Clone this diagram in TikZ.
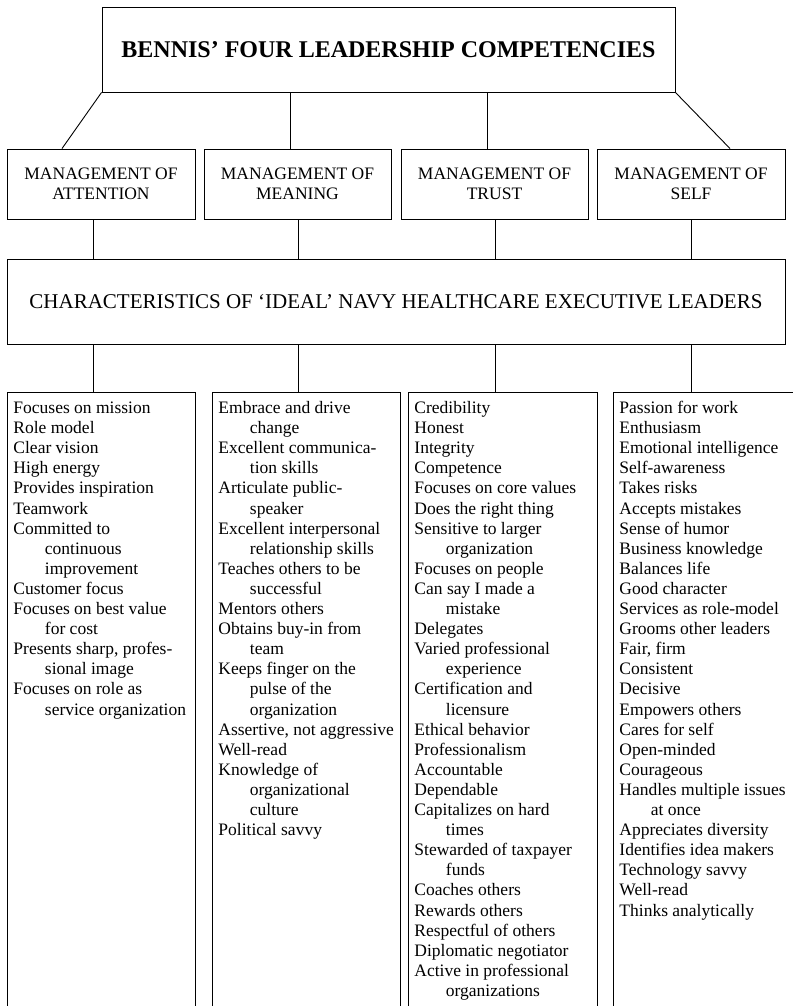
\documentclass[tikz,border=0pt]{standalone}
\usepackage{fontspec}
\setmainfont{Liberation Serif}

\newcommand{\cont}{\hspace*{31.5pt}}
\newcommand{\listfont}{\fontsize{17.5}{20.1}\selectfont}

\tikzset{
  topbox/.style={draw, inner sep=0pt, minimum width=573pt, minimum height=85pt, font=\bfseries\fontsize{24}{28}\selectfont},
  mgmtbox/.style={draw, inner sep=0pt, minimum height=70pt, align=center, font=\fontsize{17.5}{20}\selectfont},
  idealbox/.style={draw, inner sep=0pt, minimum width=778pt, minimum height=85pt, font=\fontsize{21}{24}\selectfont},
  listbox/.style={draw, anchor=north west, inner xsep=6pt, inner ysep=7pt, font=\listfont},
}

\begin{document}
\begin{tikzpicture}[x=1pt, y=-1pt, line width=0.9pt]
\useasboundingbox (0,0) rectangle (792,1006);
\node[topbox] (bennis) at (388.5,49.5) {BENNIS' FOUR LEADERSHIP COMPETENCIES};
\node[mgmtbox, minimum width=188pt] (attention) at (101,184) {MANAGEMENT OF\\ATTENTION};
\node[mgmtbox, minimum width=187pt] (meaning) at (297.5,184) {MANAGEMENT OF\\MEANING};
\node[mgmtbox, minimum width=187pt] (trust) at (494.5,184) {MANAGEMENT OF\\TRUST};
\node[mgmtbox, minimum width=188pt] (self) at (691,184) {MANAGEMENT OF\\SELF};
\node[idealbox] (ideal) at (396,301.5) {CHARACTERISTICS OF `IDEAL' NAVY HEALTHCARE EXECUTIVE LEADERS};
% lists of characteristics
\node[listbox] (listattention) at (7,392) {\parbox[t][600pt][t]{176pt}{\strut Focuses on mission\\
Role model\\
Clear vision\\
High energy\\
Provides inspiration\\
Teamwork\\
Committed to\\
\cont continuous\\
\cont improvement\\
Customer focus\\
Focuses on best value\\
\cont for cost\\
Presents sharp, profes-\\
\cont sional image\\
Focuses on role as\\
\cont service organization}};
\node[listbox] (listmeaning) at (212,392) {\parbox[t][600pt][t]{176pt}{\strut Embrace and drive\\
\cont change\\
Excellent communica-\\
\cont tion skills\\
Articulate public-\\
\cont speaker\\
Excellent interpersonal\\
\cont relationship skills\\
Teaches others to be\\
\cont successful\\
Mentors others\\
Obtains buy-in from\\
\cont team\\
Keeps finger on the\\
\cont pulse of the\\
\cont organization\\
Assertive, not aggressive\\
Well-read\\
Knowledge of\\
\cont organizational\\
\cont culture\\
Political savvy}};
\node[listbox] (listtrust) at (408,392) {\parbox[t][600pt][t]{177pt}{\strut Credibility\\
Honest\\
Integrity\\
Competence\\
Focuses on core values\\
Does the right thing\\
Sensitive to larger\\
\cont organization\\
Focuses on people\\
Can say I made a\\
\cont mistake\\
Delegates\\
Varied professional\\
\cont experience\\
Certification and\\
\cont licensure\\
Ethical behavior\\
Professionalism\\
Accountable\\
Dependable\\
Capitalizes on hard\\
\cont times\\
Stewarded of taxpayer\\
\cont funds\\
Coaches others\\
Rewards others\\
Respectful of others\\
Diplomatic negotiator\\
Active in professional\\
\cont organizations}};
\node[listbox] (listself) at (613,392) {\parbox[t][600pt][t]{176pt}{\strut Passion for work\\
Enthusiasm\\
Emotional intelligence\\
Self-awareness\\
Takes risks\\
Accepts mistakes\\
Sense of humor\\
Business knowledge\\
Balances life\\
Good character\\
Services as role-model\\
Grooms other leaders\\
Fair, firm\\
Consistent\\
Decisive\\
Empowers others\\
Cares for self\\
Open-minded\\
Courageous\\
Handles multiple issues\\
\cont at once\\
Appreciates diversity\\
Identifies idea makers\\
Technology savvy\\
Well-read\\
Thinks analytically}};
% connectors
\draw (bennis.south west) -- (attention.north -| 62,0);
\draw (bennis.south -| 290,0) -- (meaning.north -| 290,0);
\draw (bennis.south -| 487,0) -- (trust.north -| 487,0);
\draw (bennis.south east) -- (self.north -| 730,0);
\foreach \m/\l/\x in {attention/listattention/93, meaning/listmeaning/298, trust/listtrust/495, self/listself/691} {
  \draw (\m.south -| \x,0) -- (ideal.north -| \x,0);
  \draw (ideal.south -| \x,0) -- (\l.north -| \x,0);
}
\end{tikzpicture}
\end{document}
